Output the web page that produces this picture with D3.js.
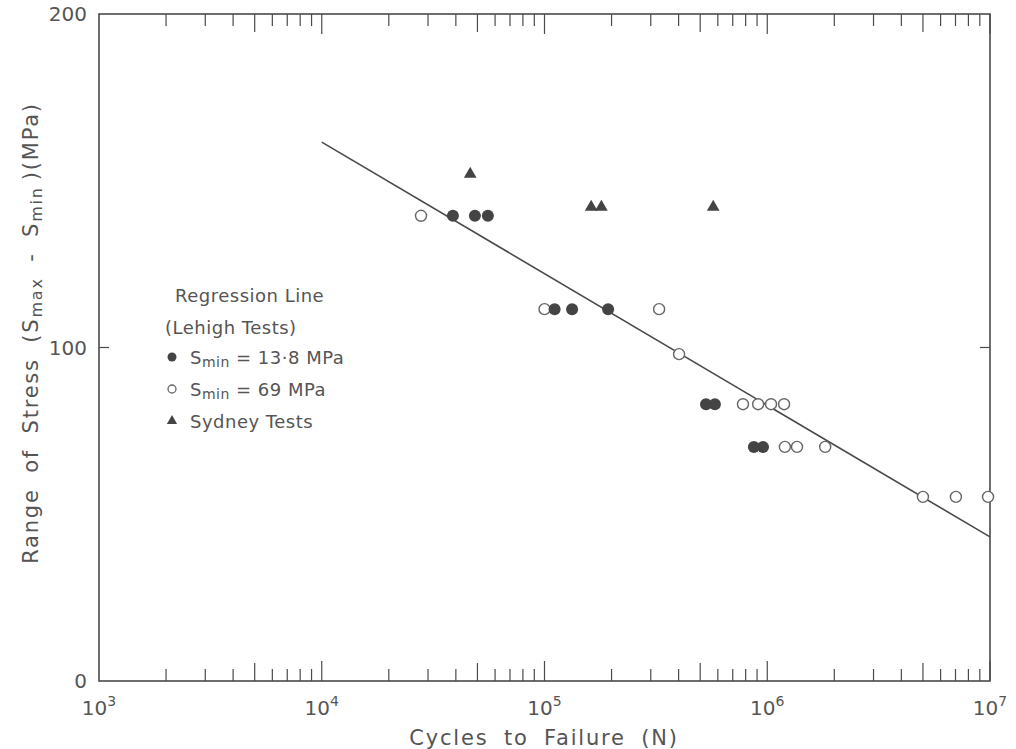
<!DOCTYPE html>
<html><head><meta charset="utf-8">
<script src="https://cdn.jsdelivr.net/npm/d3@7"></script>
<style>body{margin:0;background:#fff}svg text{font-family:"DejaVu Sans",sans-serif;fill:#555}</style>
</head><body>
<svg id="c" width="1016" height="749"></svg>
<script>
// ---- data ----
const filledN = [38800, 48700, 55700, 111000, 133000, 193000, 531000, 582000, 871000, 957000];
const filledS = [139.5, 139.5, 139.5, 111.5, 111.5, 111.5, 83, 83, 70.2, 70.2];
const openN = [27900, 100000, 327000, 402000, 778000, 910000, 1040000, 1190000, 1200000, 1360000, 1820000, 5000000, 7030000, 9800000];
const openS = [139.5, 111.5, 111.5, 98, 83, 83, 83, 83, 70.2, 70.2, 70.2, 55.2, 55.2, 55.2];
const sydneyN = [46400, 162000, 180000, 572000];
const sydneyS = [152.3, 142.4, 142.4, 142.4];
const regN = [10000, 10000000];
const regS = [161.6, 43.2];
const yTicks = [0, 100, 200];
const xDecades = [3, 4, 5, 6, 7];
const legendLines = ["Regression Line", "(Lehigh Tests)"];

// ---- chart ----
const svg = d3.select("#c");
const L = 99, T = 14, W = 891, H = 667;
const x = d3.scaleLog().domain([1e3, 1e7]).range([L, L + W]);
const y = d3.scaleLinear().domain([0, 200]).range([T + H, T]);
const ink = "#4a4a4a";

// frame
svg.append("rect").attr("x", L).attr("y", T).attr("width", W).attr("height", H)
  .attr("fill", "none").attr("stroke", ink).attr("stroke-width", 1.6);

// log ticks bottom & top
const minor = [];
for (let d = 3; d < 7; d++) for (let m = 2; m <= 10; m++) minor.push(m * Math.pow(10, d));
const tlen = v => { const m = Math.round(v / Math.pow(10, Math.floor(Math.log10(v) + 1e-9))); return m === 1 ? 20 : (m === 5 ? 18 : 12); };
svg.append("g").selectAll("line").data(minor).join("line")
  .attr("x1", d => x(d)).attr("x2", d => x(d))
  .attr("y1", T + H).attr("y2", d => T + H - tlen(d))
  .attr("stroke", ink).attr("stroke-width", 1.2);
svg.append("g").selectAll("line").data(minor).join("line")
  .attr("x1", d => x(d)).attr("x2", d => x(d))
  .attr("y1", T).attr("y2", d => T + tlen(d))
  .attr("stroke", ink).attr("stroke-width", 1.2);

// y ticks
svg.append("g").selectAll("line").data(yTicks.slice(1, -1)).join("line")
  .attr("x1", L).attr("x2", L + 10).attr("y1", d => y(d)).attr("y2", d => y(d))
  .attr("stroke", ink).attr("stroke-width", 1.2);
svg.append("g").selectAll("line").data(yTicks.slice(1, -1)).join("line")
  .attr("x1", L + W).attr("x2", L + W - 10).attr("y1", d => y(d)).attr("y2", d => y(d))
  .attr("stroke", ink).attr("stroke-width", 1.2);
svg.append("g").selectAll("text").data(yTicks).join("text")
  .attr("x", L - 12).attr("y", d => y(d) + 7).attr("text-anchor", "end")
  .attr("font-size", 20).text(d => d);

// x tick labels
const xl = svg.append("g").selectAll("text").data(xDecades).join("text")
  .attr("x", d => x(Math.pow(10, d))).attr("y", T + H + 34).attr("text-anchor", "middle")
  .attr("font-size", 20);
xl.append("tspan").text("10");
xl.append("tspan").attr("dy", -9).attr("font-size", 14).text(d => d);

// axis titles
svg.append("text").attr("x", 544).attr("y", 745).attr("text-anchor", "middle")
  .attr("font-size", 21).attr("letter-spacing", 1.8).attr("word-spacing", 7).text("Cycles to Failure (N)");
const yt = svg.append("text").attr("transform", "translate(38,333) rotate(-90)")
  .attr("text-anchor", "middle").attr("font-size", 21).attr("letter-spacing", 1.8).attr("word-spacing", 7);
yt.append("tspan").text("Range of Stress (S");
yt.append("tspan").attr("font-size", 16).attr("dy", 4).text("max");
yt.append("tspan").attr("dy", -4).text(" - S");
yt.append("tspan").attr("font-size", 16).attr("dy", 4).text("min");
yt.append("tspan").attr("dy", -4).attr("dx", 6).text(")(MPa)");

// regression line
svg.append("path").datum(regN.map((n, i) => [n, regS[i]]))
  .attr("d", d3.line().x(d => x(d[0])).y(d => y(d[1])))
  .attr("fill", "none").attr("stroke", ink).attr("stroke-width", 1.6);

// points
const open = openN.map((n, i) => [n, openS[i]]);
const filled = filledN.map((n, i) => [n, filledS[i]]);
const syd = sydneyN.map((n, i) => [n, sydneyS[i]]);
svg.append("g").selectAll("circle").data(open).join("circle")
  .attr("cx", d => x(d[0])).attr("cy", d => y(d[1])).attr("r", 5.5)
  .attr("fill", "#fff").attr("stroke", "#666").attr("stroke-width", 1.4);
svg.append("g").selectAll("circle").data(filled).join("circle")
  .attr("cx", d => x(d[0])).attr("cy", d => y(d[1])).attr("r", 6)
  .attr("fill", "#444");
const tri = d3.symbol().type(d3.symbolTriangle).size(70);
svg.append("g").selectAll("path").data(syd).join("path")
  .attr("transform", d => "translate(" + x(d[0]) + "," + (y(d[1]) + 1) + ")")
  .attr("d", tri).attr("fill", "#444");

// legend
const lg = svg.append("g").attr("font-size", 18);
lg.selectAll("text.h").data(legendLines).join("text").attr("class", "h")
  .attr("x", (d, i) => i === 0 ? 175 : 165).attr("y", (d, i) => 302 + i * 32)
  .attr("letter-spacing", 0.5).text(d => d);
const items = [
  {kind: "filled", a: "S", sub: "min", b: " = 13·8 MPa"},
  {kind: "open", a: "S", sub: "min", b: " = 69 MPa"},
  {kind: "tri", a: "Sydney Tests", sub: "", b: ""}
];
items.forEach((it, i) => {
  const yy = 357 + i * 32;
  if (it.kind === "filled") lg.append("circle").attr("cx", 172).attr("cy", yy).attr("r", 4.5).attr("fill", "#444");
  if (it.kind === "open") lg.append("circle").attr("cx", 172).attr("cy", yy).attr("r", 4).attr("fill", "none").attr("stroke", "#666").attr("stroke-width", 1.3);
  if (it.kind === "tri") lg.append("path").attr("transform", "translate(172," + yy + ")").attr("d", d3.symbol().type(d3.symbolTriangle).size(45)).attr("fill", "#444");
  const t = lg.append("text").attr("x", 190).attr("y", yy + 7).attr("letter-spacing", 0.5);
  t.append("tspan").text(it.a);
  if (it.sub) {
    t.append("tspan").attr("font-size", 14).attr("dy", 3).text(it.sub);
    t.append("tspan").attr("dy", -3).text(it.b);
  }
});
</script>
</body></html>
